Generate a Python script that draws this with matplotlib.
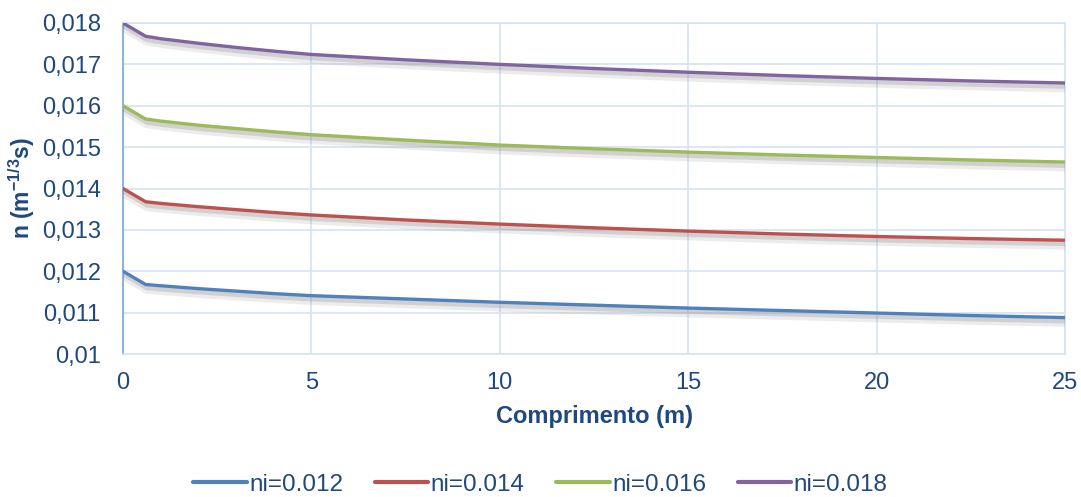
import matplotlib.pyplot as plt
import matplotlib.patheffects as pe
from matplotlib.lines import Line2D
from matplotlib.ticker import FuncFormatter

plt.rcParams['font.family'] = ['Liberation Sans', 'DejaVu Sans']
plt.rcParams['mathtext.fontset'] = 'custom'
plt.rcParams['mathtext.rm'] = 'Liberation Sans:bold'
plt.rcParams['mathtext.bf'] = 'Liberation Sans:bold'

comprimento = [0, 0.6, 1, 2, 3, 4, 5, 7.5, 10, 12.5, 15, 17.5, 20, 22.5, 25]

n_012 = [0.012, 0.01168, 0.01165, 0.01158, 0.01152, 0.01146, 0.01141, 0.01133,
         0.01125, 0.01118, 0.01111, 0.01105, 0.01099, 0.01093, 0.01088]
n_014 = [0.014, 0.01368, 0.01364, 0.01356, 0.01349, 0.01342, 0.01336, 0.01324,
         0.01314, 0.01305, 0.01297, 0.01290, 0.01284, 0.01279, 0.01275]
n_016 = [0.016, 0.01568, 0.01563, 0.01553, 0.01545, 0.01537, 0.01530, 0.01517,
         0.01505, 0.01496, 0.01488, 0.01481, 0.01475, 0.01469, 0.01464]
n_018 = [0.018, 0.01768, 0.01762, 0.01751, 0.01741, 0.01732, 0.01724, 0.01711,
         0.01700, 0.01690, 0.01681, 0.01673, 0.01666, 0.01660, 0.01655]

series = [('ni=0.012', n_012, '#4F81BD'),
          ('ni=0.014', n_014, '#C0504D'),
          ('ni=0.016', n_016, '#9BBB59'),
          ('ni=0.018', n_018, '#8064A2')]

txt = '#1F497D'
grid = '#D6E3F3'

fig = plt.figure(figsize=(10.81, 4.97), dpi=100)
ax = fig.add_axes([123 / 1081, 1 - 354 / 497, (1065 - 123) / 1081, (354 - 23) / 497])

# soft drop shadow under each line
shadow = [pe.SimpleLineShadow(offset=(1, -3.5), shadow_color='#7f7f7f', alpha=0.14, linewidth=6.5),
          pe.SimpleLineShadow(offset=(1, -2.5), shadow_color='#7f7f7f', alpha=0.25, linewidth=3.5),
          pe.Normal()]
for name, vals, col in series:
    ax.plot(comprimento, vals, color=col, lw=2.4, path_effects=shadow,
            solid_capstyle='round', solid_joinstyle='round', zorder=3)

ax.set_xlim(0, 25)
ax.set_ylim(0.010, 0.018)
ax.set_xticks([0, 5, 10, 15, 20, 25])
ax.set_yticks([0.010 + 0.001 * i for i in range(9)])


def fmt(v, p):
    s = '%.3f' % v
    if abs(v - 0.01) < 1e-9:
        s = '0.01'
    return s.replace('.', ',')


ax.yaxis.set_major_formatter(FuncFormatter(fmt))

ax.grid(True, color=grid, lw=1.2)
ax.set_axisbelow(True)
for s in ['top', 'right', 'bottom']:
    ax.spines[s].set_color(grid)
    ax.spines[s].set_linewidth(1.2)
ax.spines['left'].set_color('#8DB3E2')
ax.spines['left'].set_linewidth(1.5)
ax.tick_params(length=0, labelsize=17, labelcolor=txt)
ax.tick_params(axis='y', pad=16)
ax.tick_params(axis='x', pad=13)

ax.set_xlabel('Comprimento (m)', fontsize=17, fontweight='bold', color=txt, labelpad=8)
ax.set_ylabel('n (m$^{-1/3}$s)', fontsize=16.5, fontweight='bold', color=txt, labelpad=3)

handles = [Line2D([], [], color=col, lw=3, solid_capstyle='round') for _, _, col in series]
labels = [name for name, _, _ in series]
fig.legend(handles, labels, loc='center', bbox_to_anchor=(0.5, 1 - 485 / 497), ncol=4,
           frameon=False, fontsize=17.5, handlelength=2.2, handletextpad=0.1,
           columnspacing=1.3, labelcolor=txt)

fig.savefig('out.png', dpi=100)
